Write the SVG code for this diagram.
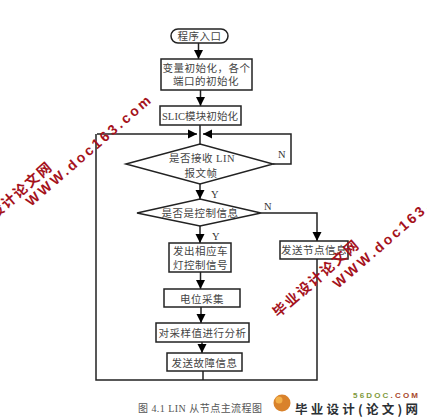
<svg xmlns="http://www.w3.org/2000/svg" width="427" height="420" viewBox="0 0 427 420">
<style>
.b{fill:#fff;stroke:#222;stroke-width:1.5}
.t{font-family:"Liberation Serif","Noto Sans CJK SC",serif;font-size:10.500px;fill:#444;text-anchor:middle;letter-spacing:.5px}
.l{font-family:"Liberation Serif",serif;font-size:10.500px;fill:#333}
.c{fill:none;stroke:#222;stroke-width:1.5}
.wm{font-family:"Liberation Sans","Noto Sans CJK SC",sans-serif;font-weight:700;fill:#a5121c}
</style>
<defs>
<marker id="a" markerUnits="userSpaceOnUse" markerWidth="10" markerHeight="10" refX="9" refY="5" orient="auto"><path d="M0 .5L9 5L0 9.500Z" fill="#000"/></marker>
</defs>
<rect width="427" height="420" fill="#fff"/>
<g id="connectors">
<path class="c" marker-end="url(#a)" d="M198.500 43V59"/>
<path class="c" marker-end="url(#a)" d="M200.500 90V106"/>
<path class="c" d="M200 125V144"/>
<path class="c" marker-end="url(#a)" d="M97 134H197"/>
<path class="c" marker-end="url(#a)" d="M273 164H291V134H203"/>
<path class="c" marker-end="url(#a)" d="M200 184V199"/>
<path class="c" marker-end="url(#a)" d="M200 226V243"/>
<path class="c" marker-end="url(#a)" d="M261 213H317V241"/>
<path class="c" marker-end="url(#a)" d="M200.500 272V289"/>
<path class="c" marker-end="url(#a)" d="M201 307V323"/>
<path class="c" marker-end="url(#a)" d="M202 342V353"/>
<path class="c" d="M203 371V380"/>
<path class="c" d="M317 259V380H96V134"/>
</g>
<g id="start"><rect class="b" x="171" y="29" width="57" height="14" rx="7"/><text class="t" x="199.500" y="40">程序入口</text></g>
<g id="init"><rect class="b" x="161" y="59" width="91" height="31"/><text class="t" x="206.500" y="71.500">变量初始化，各个</text><text class="t" x="206" y="84.500">端口的初始化</text></g>
<g id="slic"><rect class="b" x="160" y="106" width="81" height="19"/><text class="t" x="200" y="120" style="letter-spacing:.1px">SLIC模块初始化</text></g>
<g id="recv"><path class="b" d="M126 164L200 144L273 164L200 184Z"/><text class="t" x="202" y="162">是否接收 LIN</text><text class="t" x="201" y="176.500">报文帧</text></g>
<g id="ctrl"><path class="b" d="M137 213L200 199L261 213L200 226Z"/><text class="t" x="200" y="217">是否是控制信息</text></g>
<g id="lamp"><rect class="b" x="169" y="243" width="62" height="29"/><text class="t" x="200.500" y="255">发出相应车</text><text class="t" x="200.500" y="269">灯控制信号</text></g>
<g id="node"><rect class="b" x="280" y="241" width="68" height="18"/><text class="t" x="314" y="254">发送节点信息</text></g>
<g id="adc"><rect class="b" x="164" y="289" width="76" height="18"/><text class="t" x="202" y="303">电位采集</text></g>
<g id="analyse"><rect class="b" x="156" y="323" width="93" height="19"/><text class="t" x="202.500" y="337">对采样值进行分析</text></g>
<g id="fault"><rect class="b" x="167" y="353" width="75" height="18"/><text class="t" x="204.500" y="367">发送故障信息</text></g>
<g id="labels">
<text class="l" x="278" y="158">N</text>
<text class="l" x="211" y="198">Y</text>
<text class="l" x="264" y="210">N</text>
<text class="l" x="212" y="240">Y</text>
</g>
<text x="138" y="412" style="font-family:'Liberation Serif','Noto Sans CJK SC',serif;font-size:10px;fill:#555" textLength="124" lengthAdjust="spacing">图 4.1 LIN 从节点主流程图</text>
<g id="watermarks">
<text class="wm" font-size="14" transform="translate(31 207) rotate(-41)" textLength="160" lengthAdjust="spacing">WWW.doc163.com</text>
<text class="wm" font-size="14" transform="translate(-29 240) rotate(-41)" textLength="108" lengthAdjust="spacing">毕业设计论文网</text>
<text class="wm" font-size="14" transform="translate(338 289) rotate(-41)" textLength="160" lengthAdjust="spacing">WWW.doc163.com</text>
<text class="wm" font-size="14" transform="translate(278 318) rotate(-41)" textLength="108" lengthAdjust="spacing">毕业设计论文网</text>
</g>
<g id="logo">
<circle cx="282" cy="403" r="8.500" fill="#d9822b"/>
<circle cx="279" cy="400" r="3.500" fill="#f2b04a"/>
<text x="295" y="414" style="font-family:'Noto Sans CJK SC',sans-serif;font-weight:700;font-size:12.500px;fill:#2b3034" textLength="123" lengthAdjust="spacing">毕业设计(论文)网</text>
<text x="353" y="398" style="font-family:'Liberation Sans',sans-serif;font-weight:700;font-size:8px" textLength="65" lengthAdjust="spacing"><tspan fill="#7f9a3c">56DOC</tspan><tspan fill="#a8492c">.COM</tspan></text>
</g>
</svg>
